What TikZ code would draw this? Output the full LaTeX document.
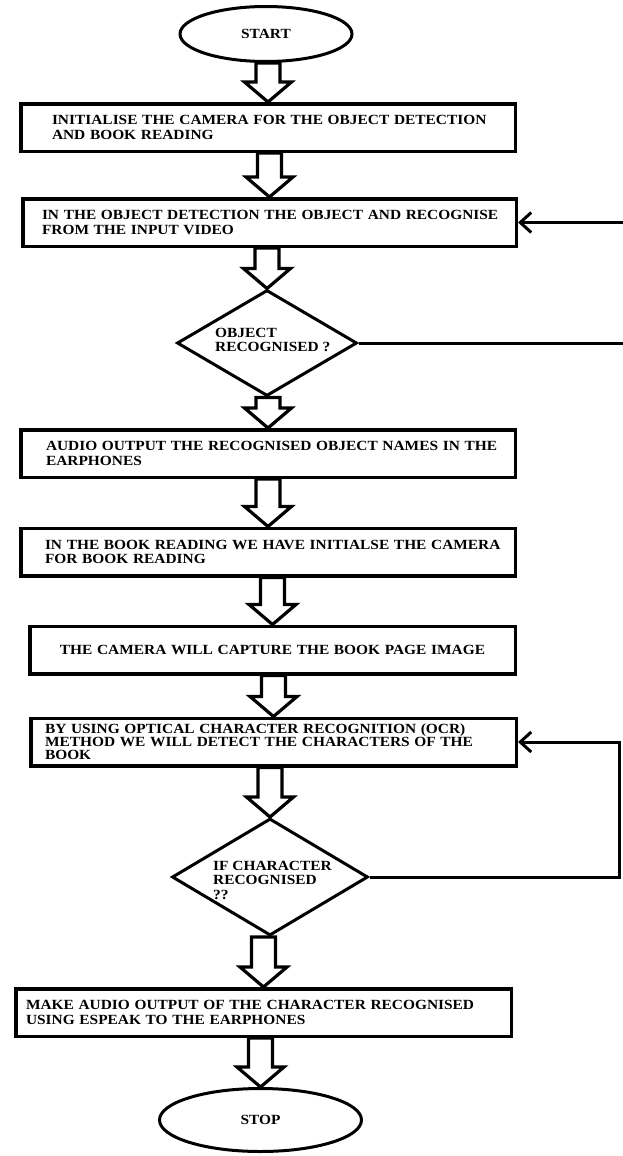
\documentclass[tikz,border=0pt]{standalone}
\usepackage{fontspec}
\setmainfont{Liberation Serif}[FakeStretch=1.1]
\usetikzlibrary{shapes.geometric,arrows.meta,calc}
\tikzset{
  every node/.style={font=\fontsize{14}{14.5}\selectfont\bfseries},
  procbox/.style={draw, line width=3.5pt, rectangle, minimum height=47.5pt, inner ysep=0pt, align=left},
  term/.style={draw, ellipse, line width=3pt, inner sep=0pt},
  decide/.style={draw, diamond, line width=3pt, inner sep=0pt},
  dlabel/.style={inner sep=0pt, align=left, anchor=north west},
  blockarr/.style={draw, line width=3.2pt, line join=miter},
  fb/.style={draw, line width=3pt},
  fbarrow/.style={fb, -{Straight Barb[length=11pt,width=20pt,line width=3pt]}},
}
\newcommand{\blockarrow}[2]{%
  \path[blockarr] let \p1=(#1.south), \p2=(#2.north) in
    (\x2-12pt,\y1) -- (\x2-12pt,\y2+20pt) -- (\x2-23.5pt,\y2+20pt) -- (\x2,\y2)
    -- (\x2+23.5pt,\y2+20pt) -- (\x2+12pt,\y2+20pt) -- (\x2+12pt,\y1) -- cycle;}
\begin{document}
\begin{tikzpicture}[x=1pt,y=1pt]
\fill[white] (0,0) rectangle (623,-1156);
\useasboundingbox (0,0) rectangle (623,-1156);

\node[term, minimum width=172pt, minimum height=55pt] (start) at (266,-34) {START};

\node[procbox, minimum width=494.5pt, text width=432pt, inner xsep=31.25pt] (b1) at (268,-127.5)
  {\mbox{INITIALISE THE CAMERA FOR THE OBJECT DETECTION}\\\mbox{AND BOOK READING}};
\node[procbox, minimum width=493.5pt, text width=455pt, inner xsep=19.25pt] (b2) at (269.5,-222.5)
  {\mbox{IN THE OBJECT DETECTION THE OBJECT AND RECOGNISE}\\\mbox{FROM THE INPUT VIDEO}};

\node[decide, minimum width=180pt, minimum height=106pt] (d1) at (267,-343) {};
\node[dlabel] (d1t) at (215,-328) {OBJECT\\RECOGNISED ?};

\node[procbox, minimum width=494.5pt, text width=444pt, inner xsep=25.25pt] (b3) at (268,-453.5)
  {\mbox{AUDIO OUTPUT THE RECOGNISED OBJECT NAMES IN THE}\\\mbox{EARPHONES}};
\node[procbox, minimum width=494.5pt, text width=446pt, inner xsep=24.25pt] (b4) at (268,-552)
  {\mbox{IN THE BOOK READING WE HAVE INITIALSE THE CAMERA}\\\mbox{FOR BOOK READING}};
\node[procbox, minimum width=485.5pt, text width=465.5pt, inner xsep=10pt, align=center] (b5) at (272.5,-650)
  {THE CAMERA WILL CAPTURE THE BOOK PAGE IMAGE};
\node[procbox, minimum width=485.5pt, text width=457pt, inner xsep=14.25pt,
      font=\fontsize{14}{13}\selectfont\bfseries] (b6) at (273.5,-742)
  {\mbox{BY USING OPTICAL CHARACTER RECOGNITION (OCR)}\\\mbox{METHOD WE WILL DETECT THE CHARACTERS OF THE}\\\mbox{BOOK}};

\node[decide, minimum width=196pt, minimum height=117pt] (d2) at (270,-877) {};
\node[dlabel] (d2t) at (213,-861) {IF CHARACTER\\RECOGNISED\\??};

\node[procbox, minimum width=495.5pt, text width=475pt, inner xsep=10.25pt] (b7) at (263.5,-1012.5)
  {\mbox{MAKE AUDIO OUTPUT OF THE CHARACTER RECOGNISED}\\\mbox{USING ESPEAK TO THE EARPHONES}};

\node[term, minimum width=202pt, minimum height=63pt] (stop) at (260.5,-1120) {STOP};

\blockarrow{start}{b1}
\blockarrow{b1}{b2}
\blockarrow{b2}{d1}
\blockarrow{d1}{b3}
\blockarrow{b3}{b4}
\blockarrow{b4}{b5}
\blockarrow{b5}{b6}
\blockarrow{b6}{d2}
\blockarrow{d2}{b7}
\blockarrow{b7}{stop}

\coordinate (edgeR) at (630,0);
\coordinate (loopR) at (619,0);
\draw[fbarrow] (b2.east -| edgeR) -- (b2.east);
\draw[fb] (d1.east) -- (d1.east -| edgeR);
\draw[fbarrow] (d2.east) -- (d2.east -| loopR) -- (b6.east -| loopR) -- (b6.east);
\end{tikzpicture}
\end{document}
